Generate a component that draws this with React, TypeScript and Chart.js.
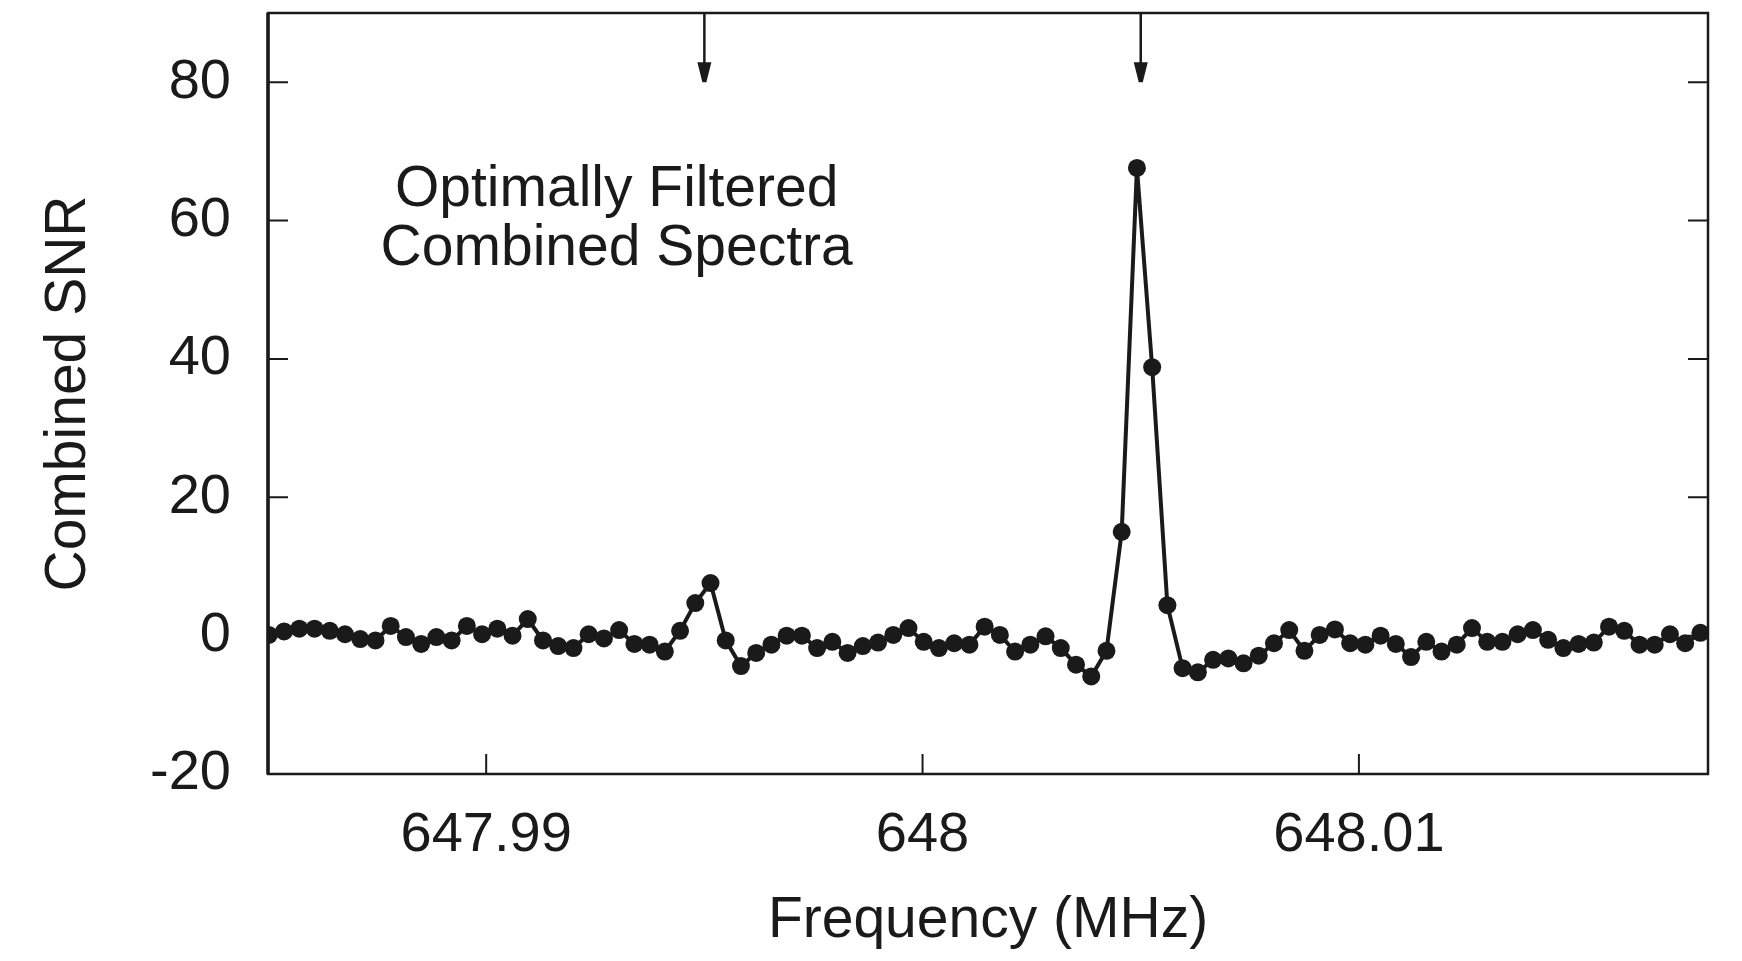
import React, { useEffect, useRef } from 'react';
import { Chart, registerables } from 'chart.js';

Chart.register(...registerables);

// ---- data ----
const FREQ_START = 647.98502; // MHz, first channel
const FREQ_STEP = 0.000349; // MHz per channel
const SNR = [
  0.1, 0.6, 1.0, 1.0, 0.7, 0.2, -0.5, -0.7, 1.4, -0.2,
  -1.2, -0.2, -0.7, 1.4, 0.2, 1.0, 0.0, 2.4, -0.7, -1.5,
  -1.8, 0.2, -0.4, 0.8, -1.2, -1.3, -2.3, 0.7, 4.7, 7.6,
  -0.7, -4.4, -2.5, -1.3, 0.0, 0.0, -1.8, -0.9, -2.5, -1.5,
  -1.0, 0.1, 1.1, -0.9, -1.8, -1.1, -1.3, 1.3, 0.1, -2.3,
  -1.3, -0.1, -1.8, -4.2, -5.9, -2.2, 15.0, 67.6, 38.8, 4.4,
  -4.7, -5.3, -3.5, -3.3, -4.0, -2.9, -1.1, 0.8, -2.2, 0.1,
  0.9, -1.1, -1.3, 0.0, -1.2, -3.1, -0.9, -2.3, -1.3, 1.1,
  -0.9, -0.9, 0.2, 0.8, -0.6, -1.8, -1.2, -1.0, 1.3, 0.7,
  -1.3, -1.3, 0.2, -1.1, 0.4,
];
const X_TICKS = [647.99, 648, 648.01];
const X_TICK_LABELS = ['647.99', '648', '648.01'];
const Y_TICKS = [-20, 0, 20, 40, 60, 80];
const Y_TICK_LABELS = ['-20', '0', '20', '40', '60', '80'];
const ARROW_FREQS = [647.995, 648.005];
const ARROW_TIP_SNR = 80;
const NOTE_LINES = ['Optimally Filtered', 'Combined Spectra'];
const NOTE_FREQ = 647.99299;
const NOTE_SNR = [64.4, 55.9];
const X_TITLE = 'Frequency (MHz)';
const Y_TITLE = 'Combined SNR';

// ---- style ----
const FONT = '"Liberation Sans", Arial, Helvetica, sans-serif';
const INK = '#1a1a1a';
const W = 1742;
const H = 961;

const framePlugin = {
  id: 'frame',
  afterDatasetsDraw(chart: any) {
    const { ctx, chartArea: a, scales } = chart;
    const xs = scales.x;
    const ys = scales.y;
    ctx.save();
    ctx.strokeStyle = INK;
    ctx.fillStyle = INK;
    // box
    ctx.lineWidth = 2.5;
    ctx.strokeRect(a.left, a.top, a.right - a.left, a.bottom - a.top);
    ctx.lineWidth = 3.5;
    ctx.beginPath();
    ctx.moveTo(a.left, a.top);
    ctx.lineTo(a.left, a.bottom);
    ctx.stroke();
    // inward ticks
    const tl = 20;
    ctx.lineWidth = 2;
    Y_TICKS.forEach((v) => {
      const py = ys.getPixelForValue(v);
      ctx.beginPath();
      ctx.moveTo(a.left, py);
      ctx.lineTo(a.left + tl, py);
      ctx.moveTo(a.right, py);
      ctx.lineTo(a.right - tl, py);
      ctx.stroke();
    });
    X_TICKS.forEach((v) => {
      const px = xs.getPixelForValue(v);
      ctx.beginPath();
      ctx.moveTo(px, a.bottom);
      ctx.lineTo(px, a.bottom - tl);
      ctx.stroke();
    });
    // arrows
    ARROW_FREQS.forEach((f) => {
      const px = xs.getPixelForValue(f);
      const tip = ys.getPixelForValue(ARROW_TIP_SNR);
      const head = 20;
      ctx.lineWidth = 2.5;
      ctx.beginPath();
      ctx.moveTo(px, a.top);
      ctx.lineTo(px, tip - head + 2);
      ctx.stroke();
      ctx.beginPath();
      ctx.moveTo(px - 7, tip - head);
      ctx.lineTo(px + 7, tip - head);
      ctx.lineTo(px + 2, tip);
      ctx.lineTo(px - 2, tip);
      ctx.closePath();
      ctx.fill();
    });
    // annotation
    ctx.font = `57px ${FONT}`;
    ctx.textAlign = 'center';
    ctx.textBaseline = 'middle';
    NOTE_LINES.forEach((t, i) => {
      ctx.fillText(t, xs.getPixelForValue(NOTE_FREQ), ys.getPixelForValue(NOTE_SNR[i]));
    });
    ctx.restore();
  },
};

export default function App() {
  const ref = useRef<HTMLCanvasElement | null>(null);

  useEffect(() => {
    if (!ref.current) return;
    const points = SNR.map((v, i) => ({ x: FREQ_START + i * FREQ_STEP, y: v }));
    const chart = new Chart(ref.current, {
      type: 'line',
      data: {
        datasets: [
          {
            data: points,
            borderColor: INK,
            backgroundColor: INK,
            borderWidth: 4,
            pointRadius: 9,
            pointBackgroundColor: INK,
            pointBorderWidth: 0,
            tension: 0,
            fill: false,
          },
        ],
      },
      options: {
        responsive: false,
        animation: false,
        events: [],
        layout: { padding: { top: 13, right: 34, left: 0, bottom: 0 } },
        plugins: {
          legend: { display: false },
          tooltip: { enabled: false },
          title: { display: false },
        },
        scales: {
          x: {
            type: 'linear',
            min: 647.985,
            max: 648.018,
            afterBuildTicks: (s: any) => {
              s.ticks = X_TICKS.map((v) => ({ value: v }));
            },
            afterFit: (s: any) => {
              s.height = 187;
              s.paddingLeft = 0;
              s.paddingRight = 0;
            },
            grid: { display: false, drawTicks: false },
            border: { display: false },
            ticks: {
              autoSkip: false,
              maxRotation: 0,
              padding: 28,
              color: INK,
              font: { family: FONT, size: 56 },
              callback: (_v: any, i: number) => X_TICK_LABELS[i],
            },
            title: {
              display: true,
              text: X_TITLE,
              color: INK,
              font: { family: FONT, size: 57 },
              padding: { top: 0, bottom: 6 },
            },
          },
          y: {
            type: 'linear',
            min: -20,
            max: 90,
            afterBuildTicks: (s: any) => {
              s.ticks = Y_TICKS.map((v) => ({ value: v }));
            },
            afterFit: (s: any) => {
              s.width = 268;
              s.paddingTop = 0;
              s.paddingBottom = 0;
            },
            grid: { display: false, drawTicks: false },
            border: { display: false },
            ticks: {
              autoSkip: false,
              padding: 37,
              color: INK,
              font: { family: FONT, size: 56 },
              callback: (_v: any, i: number) => Y_TICK_LABELS[i],
            },
            title: {
              display: true,
              text: Y_TITLE,
              color: INK,
              font: { family: FONT, size: 57 },
              padding: { top: 35, bottom: 0 },
            },
          },
        },
      },
      plugins: [framePlugin],
    } as any);
    return () => chart.destroy();
  }, []);

  return (
    <div style={{ position: 'fixed', left: 0, top: 0, width: W, height: H, background: '#fff' }}>
      <canvas ref={ref} width={W} height={H} style={{ display: 'block', width: W, height: H }} />
    </div>
  );
}
